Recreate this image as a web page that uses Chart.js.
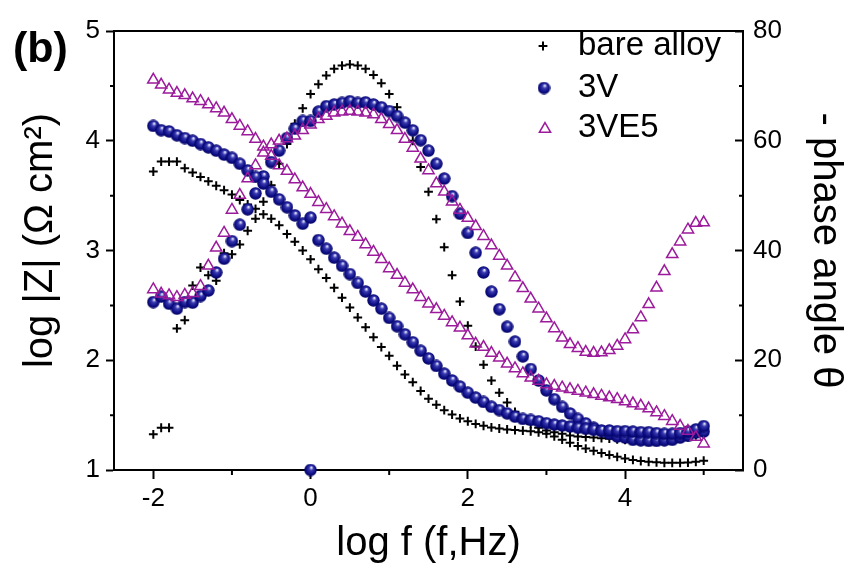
<!DOCTYPE html>
<html>
<head>
<meta charset="utf-8">
<script src="https://cdn.jsdelivr.net/npm/chart.js@4.4.0/dist/chart.umd.min.js"></script>
<style>
  html, body { margin: 0; padding: 0; background: #fff; }
</style>
</head>
<body>
<canvas id="chart" width="848" height="572"></canvas>
<script>
// log f grid, 10 points per decade
const logF = [-2.0,-1.9,-1.8,-1.7,-1.6,-1.5,-1.4,-1.3,-1.2,-1.1,-1.0,-0.9,-0.8,-0.7,-0.6,-0.5,-0.4,-0.3,-0.2,-0.1,
  0.0,0.1,0.2,0.3,0.4,0.5,0.6,0.7,0.8,0.9,1.0,1.1,1.2,1.3,1.4,1.5,1.6,1.7,1.8,1.9,
  2.0,2.1,2.2,2.3,2.4,2.5,2.6,2.7,2.8,2.9,3.0,3.1,3.2,3.3,3.4,3.5,3.6,3.7,3.8,3.9,
  4.0,4.1,4.2,4.3,4.4,4.5,4.6,4.7,4.8,4.9,5.0];

// bare alloy
const bareZ = [3.72,3.81,3.81,3.81,3.75,3.71,3.67,3.63,3.59,3.55,3.51,3.46,3.42,3.38,3.33,3.29,3.23,3.15,3.08,3.00,
  2.92,2.83,2.75,2.66,2.57,2.48,2.39,2.30,2.21,2.12,2.04,1.95,1.87,1.80,1.72,1.65,1.595,1.545,1.505,1.47,
  1.444,1.42,1.403,1.388,1.378,1.37,1.364,1.358,1.352,1.343,1.33,1.306,1.276,1.248,1.218,1.195,1.175,1.155,1.137,1.12,
  1.105,1.092,1.082,1.075,1.07,1.066,1.065,1.065,1.068,1.075,1.085];
const barePhase = [6.5,7.7,7.7,25.8,27.3,33.6,36.9,35.5,34.5,39.5,39.3,41.1,43.6,45.8,48.9,51.9,55.8,59.4,63.1,65.9,
  68.5,70.3,71.9,73.1,73.7,73.9,73.7,73.1,72.0,70.5,68.5,66.1,63.2,60.0,55.2,50.7,45.7,40.6,35.5,30.7,
  26.3,22.5,19.2,16.3,14.1,12.3,10.6,9.3,8.4,7.7,7.2,6.9,6.6,6.3,6.1,6.0,5.9,5.8,5.7,5.6,
  5.5,5.5,5.4,5.4,5.4,5.5,5.6,5.8,6.0,6.3,6.6];

// 3V
const v3Z = [4.135,4.096,4.085,4.05,4.024,4.00,3.97,3.94,3.91,3.874,3.844,3.79,3.73,3.67,3.61,3.535,3.466,3.394,3.32,3.244,
  3.30,3.095,3.016,2.935,2.86,2.785,2.704,2.626,2.545,2.47,2.386,2.31,2.236,2.164,2.086,2.017,1.948,1.878,1.816,1.76,
  1.705,1.66,1.62,1.576,1.546,1.516,1.486,1.465,1.456,1.444,1.426,1.414,1.405,1.396,1.384,1.375,1.366,1.36,1.36,1.354,
  1.354,1.35,1.345,1.345,1.336,1.33,1.33,1.336,1.35,1.37,1.40];
const v3Phase = [30.6,31.6,30.3,29.4,30.6,30.5,31.7,32.7,36.0,38.5,41.7,44.7,47.5,50.4,53.5,56.1,58.2,60.5,62.2,63.6,
  63.6,65.3,66.3,66.6,66.9,67.2,66.9,67.0,66.6,66.1,65.4,64.5,63.3,61.9,60.1,58.2,55.8,53.1,49.9,46.7,
  43.2,39.6,36.0,32.5,29.3,26.1,23.4,20.7,18.4,16.3,14.5,12.9,11.5,10.3,9.3,8.5,7.7,7.1,6.6,6.1,
  5.9,5.5,5.4,5.3,5.3,5.4,5.5,5.9,6.2,6.8,7.0];
// stray 3V point lying on the bottom axis
const v3ExtraLogF = [0.0];
const v3ExtraZ = [1.0];

// 3VE5
const ve5Z = [4.555,4.51,4.465,4.435,4.414,4.384,4.36,4.33,4.294,4.255,4.195,4.135,4.085,4.015,3.946,3.86,3.775,3.724,3.646,3.574,
  3.514,3.44,3.376,3.31,3.244,3.175,3.124,3.055,2.987,2.92,2.836,2.776,2.704,2.644,2.575,2.515,2.464,2.404,2.344,2.296,
  2.225,2.15,2.12,2.065,2.022,1.968,1.925,1.88,1.84,1.81,1.78,1.765,1.75,1.735,1.72,1.705,1.69,1.675,1.66,1.645,
  1.625,1.605,1.585,1.56,1.525,1.49,1.445,1.40,1.355,1.30,1.24];
const ve5Phase = [32.9,32.1,31.8,31.5,31.9,32.2,33.5,37.2,40.5,43.2,47.4,50.1,53.1,55.5,57.8,59.3,60.0,60.4,60.9,61.9,
  62.9,63.9,64.5,65.1,65.3,65.4,65.3,65.1,64.8,63.9,63.0,61.9,60.3,58.7,56.7,54.6,52.2,50.7,48.9,47.4,
  45.9,44.4,42.6,40.9,39.0,37.2,35.1,33.1,31.2,29.4,27.6,25.8,24.1,22.9,22.2,21.5,21.3,21.4,21.8,22.6,
  23.8,25.6,27.8,30.2,33.2,36.2,39.3,41.6,43.8,45.0,45.1];

// ticks
const xTicks = [-2, 0, 2, 4];
const xMinor = [-1, 1, 3, 5];
const zTicks = [1, 2, 3, 4, 5];
const zMinor = [1.5, 2.5, 3.5, 4.5];
const phaseTicks = [0, 20, 40, 60, 80];
const phaseMinor = [10, 30, 50, 70];

const legendNames = ['bare alloy', '3V', '3VE5'];

const FONT = "'Liberation Sans', Arial, Helvetica, sans-serif";
const PURPLE = '#9c1a9c';

function makeSphere(d) {
  const c = document.createElement('canvas');
  c.width = d; c.height = d;
  const g = c.getContext('2d');
  const r = d / 2;
  const grad = g.createRadialGradient(r * 1.15, r * 0.6, r * 0.05, r, r, r);
  grad.addColorStop(0, '#eef0ff');
  grad.addColorStop(0.3, '#3a3ab0');
  grad.addColorStop(0.7, '#101088');
  grad.addColorStop(1, '#000060');
  g.fillStyle = grad;
  g.beginPath();
  g.arc(r, r, r - 0.3, 0, Math.PI * 2);
  g.fill();
  return c;
}
const sphere = makeSphere(13);

const pts = (xs, ys) => xs.map((x, i) => ({x: x, y: ys[i]}));

const crossStyle = {pointStyle: 'cross', pointRadius: 4.4, borderColor: '#000', borderWidth: 2};
const sphereStyle = {pointStyle: sphere, pointRadius: 6.5};
const triStyle = {pointStyle: 'triangle', pointRadius: 6.5, borderColor: PURPLE, backgroundColor: 'rgba(0,0,0,0)', borderWidth: 1.5};

const extras = {
  id: 'extras',
  afterDraw(chart) {
    const ctx = chart.ctx;
    const a = chart.chartArea;
    const x = chart.scales.x, y = chart.scales.y, y1 = chart.scales.y1;
    ctx.save();
    ctx.strokeStyle = '#000';
    ctx.lineWidth = 2;
    ctx.beginPath();
    ctx.moveTo(a.left - 1, a.top);
    ctx.lineTo(a.right + 1, a.top);
    // minor ticks
    xMinor.forEach(v => { const p = x.getPixelForValue(v); ctx.moveTo(p, a.bottom); ctx.lineTo(p, a.bottom + 5); });
    zMinor.forEach(v => { const p = y.getPixelForValue(v); ctx.moveTo(a.left - 4, p); ctx.lineTo(a.left, p); });
    phaseMinor.forEach(v => { const p = y1.getPixelForValue(v); ctx.moveTo(a.right - 4, p); ctx.lineTo(a.right, p); });
    ctx.stroke();

    // panel label
    ctx.fillStyle = '#000';
    ctx.font = 'bold 43px ' + FONT;
    ctx.textAlign = 'left';
    ctx.textBaseline = 'middle';
    ctx.fillText('(b)', 13, 50);

    // legend
    const lx = 543, tx = 578;
    const rows = [46, 88, 128];
    ctx.font = '33px ' + FONT;
    ctx.lineWidth = 2;
    ctx.beginPath();
    ctx.moveTo(lx - 4.4, rows[0]); ctx.lineTo(lx + 4.4, rows[0]);
    ctx.moveTo(lx, rows[0] - 4.4); ctx.lineTo(lx, rows[0] + 4.4);
    ctx.stroke();
    ctx.drawImage(sphere, lx + 1 - sphere.width / 2, rows[1] - sphere.height / 2);
    ctx.strokeStyle = PURPLE;
    ctx.lineWidth = 1.5;
    ctx.beginPath();
    for (let k = 0; k < 3; k++) {
      const ang = k * 2 * Math.PI / 3;
      ctx.lineTo(lx + 2 + Math.sin(ang) * 6.5, rows[2] + 1 - Math.cos(ang) * 6.5);
    }
    ctx.closePath();
    ctx.stroke();
    legendNames.forEach((n, i) => ctx.fillText(n, tx, rows[i]));
    ctx.restore();
  }
};

Chart.defaults.font.family = FONT;
Chart.defaults.color = '#000';

new Chart(document.getElementById('chart'), {
  type: 'scatter',
  data: {
    datasets: [
      Object.assign({label: 'bare alloy |Z|', data: pts(logF, bareZ), yAxisID: 'y', order: 2, clip: false}, crossStyle),
      Object.assign({label: 'bare alloy phase', data: pts(logF, barePhase), yAxisID: 'y1', order: 2, clip: false}, crossStyle),
      Object.assign({label: '3V |Z|', data: pts(logF.concat(v3ExtraLogF), v3Z.concat(v3ExtraZ)), yAxisID: 'y', order: 1, clip: false}, sphereStyle),
      Object.assign({label: '3V phase', data: pts(logF, v3Phase), yAxisID: 'y1', order: 1, clip: false}, sphereStyle),
      Object.assign({label: '3VE5 |Z|', data: pts(logF, ve5Z), yAxisID: 'y', order: 0, clip: false}, triStyle),
      Object.assign({label: '3VE5 phase', data: pts(logF, ve5Phase), yAxisID: 'y1', order: 0, clip: false}, triStyle)
    ]
  },
  options: {
    responsive: false,
    animation: false,
    layout: {padding: {top: 26, left: 0, right: 0, bottom: 0}},
    plugins: {legend: {display: false}, tooltip: {enabled: false}},
    scales: {
      x: {
        type: 'linear', position: 'bottom', min: -2.5, max: 5.5,
        afterBuildTicks: s => { s.ticks = xTicks.map(v => ({value: v})); },
        afterFit: s => { s.height = 102; },
        grid: {drawOnChartArea: false, tickLength: 9, tickWidth: 2, tickColor: '#000'},
        border: {color: '#000', width: 2},
        ticks: {font: {size: 26, lineHeight: 1}, padding: 7, callback: v => String(v)},
        title: {display: true, text: 'log f (f,Hz)', font: {size: 40, lineHeight: 1}, padding: {top: 0, bottom: 8}}
      },
      y: {
        type: 'linear', position: 'left', min: 1, max: 5,
        afterBuildTicks: s => { s.ticks = zTicks.map(v => ({value: v})); },
        afterFit: s => { s.width = 114; },
        grid: {drawOnChartArea: false, tickLength: 8, tickWidth: 2, tickColor: '#000'},
        border: {color: '#000', width: 2},
        ticks: {font: {size: 26, lineHeight: 1}, padding: 6, callback: v => String(v)},
        title: {display: true, text: '\u2002log |Z| (\u03A9 cm\u00B2)', font: {size: 40, lineHeight: 1}, padding: {top: 21, bottom: 0}}
      },
      y1: {
        type: 'linear', position: 'right', min: 0, max: 80,
        afterBuildTicks: s => { s.ticks = phaseTicks.map(v => ({value: v})); },
        afterFit: s => { s.width = 105; },
        grid: {drawOnChartArea: false, tickLength: -8, tickWidth: 2, tickColor: '#000'},
        border: {color: '#000', width: 2},
        ticks: {font: {size: 26, lineHeight: 1}, padding: 18, callback: v => String(v)},
        title: {display: true, text: '- phase angle \u03B8', font: {size: 40, lineHeight: 1}, padding: {top: 3, bottom: 0}}
      }
    }
  },
  plugins: [extras]
});
</script>
</body>
</html>
